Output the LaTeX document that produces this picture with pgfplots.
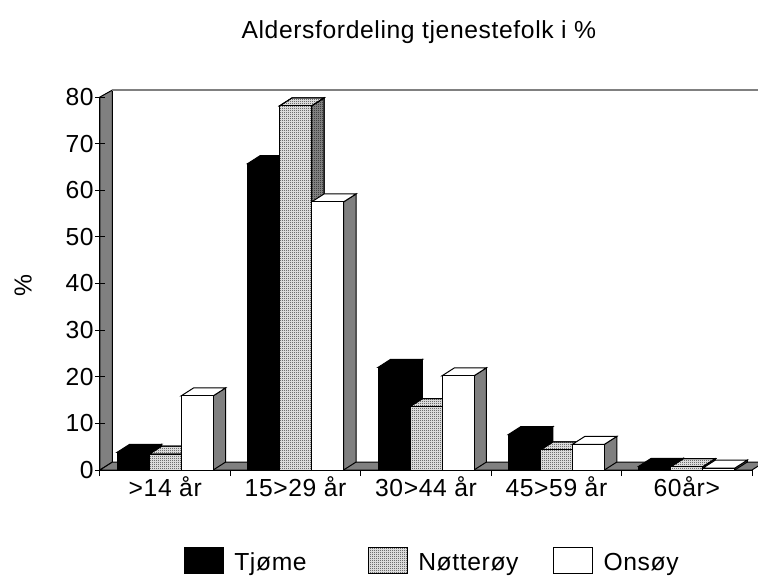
\documentclass[border=0pt]{standalone}
\usepackage{fontspec}
\setmainfont[LetterSpace=2.5]{Liberation Sans}
\usepackage{pgfplots}
\pgfplotsset{compat=1.18}
\usetikzlibrary{patterns}
\pgfdeclarepatternformonly{fine}{\pgfpointorigin}{\pgfqpoint{1.5pt}{1.5pt}}{\pgfqpoint{1.5pt}{1.5pt}}{%
  \pgfpathrectangle{\pgfpointorigin}{\pgfqpoint{0.75pt}{0.75pt}}\pgfusepath{fill}%
  \pgfpathrectangle{\pgfqpoint{0.75pt}{0.75pt}}{\pgfqpoint{0.2pt}{0.2pt}}\pgfusepath{fill}}
\definecolor{wallgray}{gray}{0.5}
\definecolor{stipple}{gray}{0.86}
\newcommand\lgstrut{\rule[-7pt]{0pt}{20pt}}
\pgfplotsset{
  sB/.style={draw=black,fill=black,line width=0.75pt},
  sN/.style={draw=black,line width=0.75pt,fill=stipple,postaction={pattern=fine}},
  sNside/.style={draw=black,line width=0.75pt,fill=wallgray,postaction={pattern=fine}},
  sW/.style={draw=black,line width=0.75pt,fill=white},
  sWside/.style={draw=black,line width=0.75pt,fill=wallgray},
  sBside/.style={sB},
  swatch/.style={legend image code/.code={\draw[##1] (0pt,-9.75pt) rectangle (29pt,9.75pt);}},
}
% c = category centre, v = value, s = -1/0/1 series slot, #4 top style, #5 side style
\newcommand\depth[5]{%
  \pgfmathsetmacro\xl{#1+#3*0.2454-0.1227}%
  \pgfmathsetmacro\xr{#1+#3*0.2454+0.1227}%
  \pgfmathsetmacro\xlb{\xl+0.0958}%
  \pgfmathsetmacro\xrb{\xr+0.0958}%
  \pgfmathsetmacro\vb{#2+1.716}%
  \edef\tmp{\noexpand\addplot[#5,forget plot] coordinates {(\xr,#2)(\xrb,\vb)(\xrb,1.716)(\xr,0)} -- cycle;
    \noexpand\addplot[#4,forget plot] coordinates {(\xl,#2)(\xlb,\vb)(\xrb,\vb)(\xr,#2)} -- cycle;}%
  \tmp}
\begin{document}
\begin{tikzpicture}
\path[use as bounding box,clip] (0,0) rectangle (568.5pt,432pt);
\begin{axis}[
  at={(75pt,79.5pt)},anchor=south west,
  scale only axis,width=489pt,height=279.75pt,
  xmin=0,xmax=5,ymin=0,ymax=80,
  clip=false,axis on top,
  axis lines*=left,
  axis line style={-,line width=0.75pt},
  major tick length=4.5pt,
  xtick={0,1,2,3,4,5},
  xticklabels={},
  xtick align=outside,
  x tick style={black,line width=0.75pt},
  extra x ticks={0.5,1.5,2.5,3.5,4.5},
  extra x tick labels={>14 år,15>29 år,30>44 år,45>59 år,60år>},
  extra x tick style={tick style={draw=none},major tick length=0pt},
  ytick={0,10,20,30,40,50,60,70,80},
  y tick style={black,line width=0.75pt},
  ytick align=center,
  extra y ticks={0,10,20,30,40,50,60,70,80},
  extra y tick labels={},
  extra y tick style={major tick length=7.5pt},
  tick label style={font=\fontsize{18.5pt}{20pt}\selectfont},
  /pgf/number format/assume math mode=true,
  xticklabel style={yshift=-1.5pt},
  yticklabel style={xshift=1pt},
  title={Aldersfordeling tjenestefolk i \%},
  title style={at={(0.489,1.153)},anchor=center,font=\fontsize{18.5pt}{20pt}\selectfont},
  ylabel={\%},
  ylabel style={at={(-0.118,0.495)},anchor=center,font=\fontsize{18.5pt}{20pt}\selectfont},
  legend style={draw=none,fill=none,at={(0.1288,-0.2815)},anchor=south west,inner sep=0pt,outer sep=0pt,
    font=\fontsize{18.5pt}{20pt}\selectfont,legend columns=3,
    nodes={yshift=-1.5pt},
    /tikz/every odd column/.append style={column sep=6pt},
    row sep=0pt},
  legend cell align=left,
]
% walls and floor
\addplot[draw=black,fill=wallgray,line width=0.75pt,forget plot] coordinates {(0,0)(0.0958,1.716)(0.0958,81.5)(0,80)} -- cycle;
\addplot[draw=black,fill=wallgray,line width=0.75pt,forget plot] coordinates {(0,0)(0.0958,1.716)(5.0958,1.716)(5,0)} -- cycle;
\addplot[draw=wallgray,line width=1.1pt,forget plot] coordinates {(0.0958,81.5)(5.0958,81.5)};
% Tjome
\depth{0.5}{3.8}{-1}{sB}{sBside}
\depth{1.5}{65.7}{-1}{sB}{sBside}
\depth{2.5}{22}{-1}{sB}{sBside}
\depth{3.5}{7.6}{-1}{sB}{sBside}
\depth{4.5}{0.8}{-1}{sB}{sBside}
\addplot[ybar,bar width=24pt,bar shift=-24pt,sB,swatch] coordinates {(0.5,3.8)(1.5,65.7)(2.5,22)(3.5,7.6)(4.5,0.8)};
\addlegendentry{\lgstrut Tjøme\rule{44pt}{0pt}}
% Notteroy
\depth{0.5}{3.4}{0}{sN}{sNside}
\depth{1.5}{78.1}{0}{sN}{sNside}
\depth{2.5}{13.6}{0}{sN}{sNside}
\depth{3.5}{4.3}{0}{sN}{sNside}
\depth{4.5}{0.7}{0}{sN}{sNside}
\addplot[ybar,bar width=24pt,bar shift=0pt,sN,swatch] coordinates {(0.5,3.4)(1.5,78.1)(2.5,13.6)(3.5,4.3)(4.5,0.7)};
\addlegendentry{\lgstrut Nøtterøy\rule{24pt}{0pt}}
% Onsoy
\depth{0.5}{15.9}{1}{sW}{sWside}
\depth{1.5}{57.5}{1}{sW}{sWside}
\depth{2.5}{20.2}{1}{sW}{sWside}
\depth{3.5}{5.5}{1}{sW}{sWside}
\depth{4.5}{0.4}{1}{sW}{sWside}
\addplot[ybar,bar width=24pt,bar shift=24pt,sW,swatch] coordinates {(0.5,15.9)(1.5,57.5)(2.5,20.2)(3.5,5.5)(4.5,0.4)};
\addlegendentry{\lgstrut Onsøy}
\end{axis}
\end{tikzpicture}
\end{document}
